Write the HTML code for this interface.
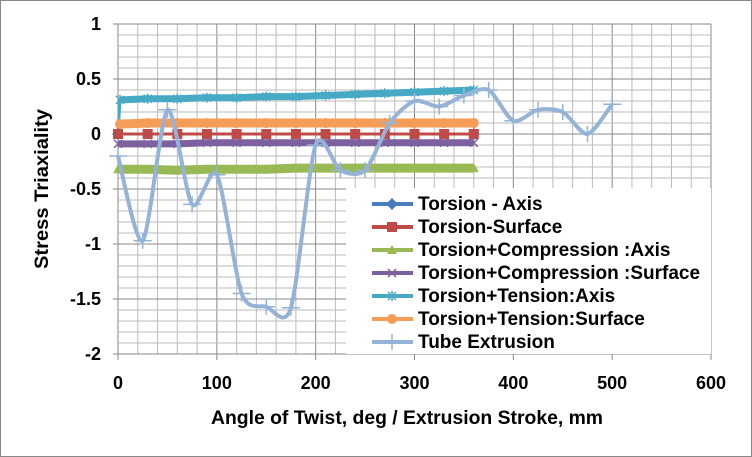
<!DOCTYPE html>
<html><head><meta charset="utf-8"><style>
body{margin:0;background:#fff}
svg{display:block;font-family:"Liberation Sans",sans-serif}
</style></head><body>
<svg id="c" width="752" height="457">
<rect x="0.5" y="0.5" width="751" height="456" fill="#fff" stroke="#888"/>
<g id="grid"></g>
<g id="axes"></g>
<g id="series"></g>
<g id="legend"></g>
<text x="407" y="424" text-anchor="middle" font-size="19" font-weight="bold" textLength="392" lengthAdjust="spacingAndGlyphs">Angle of Twist, deg / Extrusion Stroke, mm</text>
<text transform="translate(48,189) rotate(-90)" text-anchor="middle" font-size="19" font-weight="bold" textLength="160" lengthAdjust="spacingAndGlyphs">Stress Triaxiality</text>
</svg>
<script>
const xTicks=[0,100,200,300,400,500,600];
const yTicks=[1,0.5,0,-0.5,-1,-1.5,-2];
const yTickLabels=["1","0.5","0","-0.5","-1","-1.5","-2"];
const torsionX=[0,30,60,90,120,150,180,210,240,270,300,330,360];
const axisY=[0,0,0,0,0,0,0,0,0,0,0,0,0];
const surfaceY=[0,0,0,0,0,0,0,0,0,0,0,0,0];
const compAxisY=[-0.32,-0.32,-0.33,-0.32,-0.32,-0.32,-0.31,-0.31,-0.31,-0.31,-0.31,-0.31,-0.31];
const compSurfY=[-0.09,-0.09,-0.09,-0.08,-0.08,-0.08,-0.08,-0.08,-0.08,-0.08,-0.08,-0.08,-0.08];
const tensAxisX=[0,2,30,60,90,120,150,180,210,240,270,300,330,360];
const tensAxisY=[0,0.31,0.32,0.32,0.33,0.33,0.34,0.34,0.35,0.36,0.37,0.38,0.39,0.4];
const tensSurfY=[0.0,0.09,0.1,0.1,0.1,0.1,0.1,0.1,0.1,0.1,0.1,0.1,0.1,0.1];
const tubeX=[0,25,50,75,100,125,150,175,200,225,250,275,300,325,350,375,400,425,450,475,500];
const tubeY=[-0.2,-0.97,0.22,-0.64,-0.37,-1.45,-1.57,-1.58,-0.1,-0.33,-0.33,0.1,0.3,0.25,0.35,0.4,0.12,0.22,0.2,0.0,0.27];
const legendNames=["Torsion - Axis","Torsion-Surface","Torsion+Compression :Axis","Torsion+Compression :Surface","Torsion+Tension:Axis","Torsion+Tension:Surface","Tube Extrusion"];
const colors=["#4a7ebb","#be4b48","#98b954","#7d60a0","#46aac5","#f59d56","#95b3d7"];

const NS="http://www.w3.org/2000/svg";
const X0=118,XW=593,Y0=24,YH=330;
const sx=v=>X0+v/600*XW, sy=v=>Y0+(1-v)/3*YH;
function el(t,a,p){const e=document.createElementNS(NS,t);for(const k in a)e.setAttribute(k,a[k]);p.appendChild(e);return e;}
const grid=document.getElementById('grid'),axes=document.getElementById('axes'),ser=document.getElementById('series'),leg=document.getElementById('legend');
for(let v=0;v<=600;v+=20){const major=v%100===0;const g=el('line',{x1:sx(v),x2:sx(v),y1:Y0,y2:Y0+YH,stroke:major?'#888':'#bbb','stroke-width':1},grid);

}
for(let i=0;i<=30;i++){const v=1-i*0.1;const major=i%5===0;const g=el('line',{x1:X0,x2:X0+XW,y1:sy(v),y2:sy(v),stroke:major?'#888':'#bbb','stroke-width':1},grid);

}
xTicks.forEach(v=>{const t=el('text',{x:sx(v),y:389,'text-anchor':'middle','font-size':18,'font-weight':'bold'},axes);t.textContent=v;


el('line',{x1:sx(v),x2:sx(v),y1:Y0+YH,y2:Y0+YH+6,stroke:'#888'},axes);});
yTicks.forEach((v,i)=>{const t=el('text',{x:101,y:sy(v)+6,'text-anchor':'end','font-size':18,'font-weight':'bold'},axes);t.textContent=yTickLabels[i];


el('line',{x1:X0-5,x2:X0,y1:sy(v),y2:sy(v),stroke:'#888'},axes);});
function poly(xs,ys,c,w,name){const p=el('polyline',{points:xs.map((x,i)=>sx(x)+','+sy(ys[i])).join(' '),fill:'none',stroke:c,'stroke-width':w},ser);

}
function marker(type,x,y,c,par){par=par||ser;
 if(type==='diamond')el('path',{d:`M${x-6},${y}L${x},${y-6}L${x+6},${y}L${x},${y+6}Z`,fill:c},par);
 else if(type==='square')el('rect',{x:x-5,y:y-5,width:10,height:10,fill:c},par);
 else if(type==='circle')el('circle',{cx:x,cy:y,r:5,fill:c},par);
 else if(type==='tri')el('path',{d:`M${x-5},${y+4}L${x},${y-5}L${x+5},${y+4}Z`,fill:c},par);
 else if(type==='x')el('path',{d:`M${x-4},${y-4}L${x+4},${y+4}M${x-4},${y+4}L${x+4},${y-4}`,stroke:c,'stroke-width':1.5},par);
 else if(type==='star')el('path',{d:`M${x-4},${y-4}L${x+4},${y+4}M${x-4},${y+4}L${x+4},${y-4}M${x},${y-5}L${x},${y+5}`,stroke:c,'stroke-width':1.5},par);
 else if(type==='plus')el('path',{d:`M${x-9},${y}L${x+9},${y}M${x},${y-8}L${x},${y+8}`,stroke:c,'stroke-width':1.5},par);
}
poly(torsionX,compAxisY,colors[2],9,'series-compression-axis');
torsionX.forEach((x,i)=>marker('tri',sx(x),sy(compAxisY[i]),colors[2]));
poly(torsionX,compSurfY,colors[3],7,'series-compression-surface');
torsionX.forEach((x,i)=>marker('x',sx(x),sy(compSurfY[i]),colors[3]));
poly(tensAxisX,tensAxisY,colors[4],3,'series-tension-axis');
poly(tensAxisX.slice(1),tensAxisY.slice(1),colors[4],7,'series-tension-axis-band');
tensAxisX.forEach((x,i)=>marker('star',sx(x),sy(tensAxisY[i]),colors[4]));
poly(tensAxisX,tensSurfY,colors[5],3,'series-tension-surface');
poly(tensAxisX.slice(1),tensSurfY.slice(1),colors[5],9,'series-tension-surface-band');
tensAxisX.forEach((x,i)=>marker('circle',sx(x),sy(tensSurfY[i]),colors[5]));
poly(torsionX,axisY,colors[0],3,'series-torsion-axis');
marker('diamond',sx(0),sy(0),colors[0]);marker('diamond',sx(360),sy(0),colors[0]);
poly(torsionX,surfaceY,colors[1],3,'series-torsion-surface');
torsionX.forEach((x,i)=>marker('square',sx(x),sy(surfaceY[i]),colors[1]));
(function(){const P=tubeX.map((x,i)=>[sx(x),sy(tubeY[i])]);let d=`M${P[0][0]},${P[0][1]}`;const k=7.5;
for(let i=0;i<P.length-1;i++){const p0=P[i-1]||P[i],p1=P[i],p2=P[i+1],p3=P[i+2]||P[i+1];
d+=`C${p1[0]+(p2[0]-p0[0])/k},${p1[1]+(p2[1]-p0[1])/k} ${p2[0]-(p3[0]-p1[0])/k},${p2[1]-(p3[1]-p1[1])/k} ${p2[0]},${p2[1]}`;}
const p=el('path',{d,fill:'none',stroke:colors[6],'stroke-width':4},ser);


P.forEach(q=>marker('plus',q[0],q[1],colors[6]));})();
el('rect',{x:346,y:188,width:365,height:166,fill:'#fff'},leg);
const mk=['diamond','square','tri','x','star','circle','plus'];
legendNames.forEach((n,i)=>{const y=204+i*23;
el('line',{x1:372,x2:413,y1:y,y2:y,stroke:colors[i],'stroke-width':4},leg);
marker(mk[i],392,y,colors[i],leg);
const t=el('text',{x:418,y:y+6,'font-size':19,'font-weight':'bold'},leg);t.textContent=n;

});
</script>
</body></html>
